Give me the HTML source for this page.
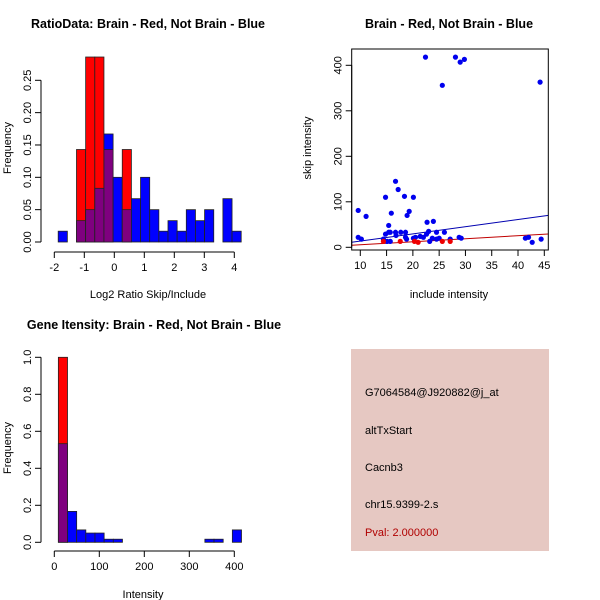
<!DOCTYPE html>
<html><head><meta charset="utf-8"><style>
body{margin:0;background:#fff}
svg{display:block;font-family:"Liberation Sans",sans-serif}
</style></head><body>
<svg id="s" width="600" height="600" viewBox="0 0 600 600">
<rect x="351" y="349" width="198" height="202" fill="#e6c8c2"/>
<g font-size="11">
<text x="365" y="396">G7064584@J920882@j_at</text>
<text x="365" y="434">altTxStart</text>
<text x="365" y="471">Cacnb3</text>
<text x="365" y="508">chr15.9399-2.s</text>
<text x="365" y="536" fill="#b00000">Pval: 2.000000</text>
</g>
</svg>
<script>
// ---- Plot 1 data: log2 ratio histogram
const ratioBinStart = -1.87;
const ratioBinWidth = 0.305;
const ratioBlue = [0.0167,0,0.033,0.05,0.083,0.167,0.1,0.05,0.067,0.1,0.05,0.0167,0.033,0.0167,0.05,0.033,0.05,0,0.067,0.0167];
const ratioRed  = [0,0,0.143,0.286,0.286,0.143,0,0.143,0,0,0,0,0,0,0,0,0,0,0,0];
const ratioXTicks = [-2,-1,0,1,2,3,4];
const ratioYTicks = [0,0.05,0.10,0.15,0.20,0.25];
const ratioYLabels = ["0.00","0.05","0.10","0.15","0.20","0.25"];
// ---- Plot 2 data: scatter
const blueX = [9.6,22.4,28.1,29.0,29.8,25.6,44.2,16.7,17.2,14.8,18.4,20.1,11.1,15.9,19.3,18.9,15.4,22.7,23.9,9.6,10.2,14.8,15.4,15.7,16.7,17.7,18.6,16.8,18.6,18.8,20.1,20.5,21.4,22,22.6,23,23.2,23.7,24.5,24.5,25,26,27.1,28.8,29.2,14.4,15.1,15.7,41.4,42,42.7,44.4];
const blueY = [81,418,418,407,413,356,363,145,127,110,112,110,68,75,79,70,48,55,57,22,18,29,33,33,33,33,33,26,22,18,20,22,24,22,29,35,13,20,33,18,20,33,18,22,20,18,13,13,20,22,11,18];
const redX = [17.6,20.3,21,25.6,27.1,14.4];
const redY = [13,13,11,13,13,13];
const blueFit = [-2.2,1.58];
const redFit = [-1.16,0.666];
const scatXTicks = [10,15,20,25,30,35,40,45];
const scatYTicks = [0,100,200,300,400];
// ---- Plot 3 data: intensity histogram
const intBinStart = 9;
const intBinWidth = 20.35;
const intBlue = [0.533,0.167,0.067,0.05,0.05,0.0167,0.0167,0,0,0,0,0,0,0,0,0,0.0167,0.0167,0,0.067];
const intRed  = [1.0,0,0,0,0,0,0,0,0,0,0,0,0,0,0,0,0,0,0,0];
const intXTicks = [0,100,200,300,400];
const intYTicks = [0,0.2,0.4,0.6,0.8,1.0];
const intYLabels = ["0.0","0.2","0.4","0.6","0.8","1.0"];

const NS="http://www.w3.org/2000/svg", svg=document.getElementById('s');
function mk(tag,attrs,parent){const e=document.createElementNS(NS,tag);for(const k in attrs)e.setAttribute(k,attrs[k]);(parent||svg).appendChild(e);return e;}
function txt(x,y,s,attrs,parent){const e=mk('text',Object.assign({x:x,y:y},attrs||{}),parent);e.textContent=s;return e;}
function lin(d0,d1,p0,p1){return v=>p0+(v-d0)*(p1-p0)/(d1-d0);}

function axes(g,xs,ys,xt,xl,yt,yl,xAxisY,yAxisX){
  mk('line',{x1:xs(xt[0]),x2:xs(xt[xt.length-1]),y1:xAxisY,y2:xAxisY,stroke:'#000'},g);
  xt.forEach((t,i)=>{mk('line',{x1:xs(t),x2:xs(t),y1:xAxisY,y2:xAxisY+6,stroke:'#000'},g);
    const e=txt(xs(t),xAxisY+19,xl[i],{'font-size':11,'text-anchor':'middle'},g);
    
    });
  mk('line',{x1:yAxisX,x2:yAxisX,y1:ys(yt[0]),y2:ys(yt[yt.length-1]),stroke:'#000'},g);
  yt.forEach((t,i)=>{mk('line',{x1:yAxisX-6,x2:yAxisX,y1:ys(t),y2:ys(t),stroke:'#000'},g);
    const e=txt(0,0,yl[i],{'font-size':11,'text-anchor':'middle',transform:`translate(${yAxisX-10},${ys(t)}) rotate(-90)`},g);
    
    });
}
function hist(g,xs,ys,start,w,blue,red){
  blue.forEach((b,i)=>{const r=red[i];const x0=xs(start+i*w),x1=xs(start+(i+1)*w);
    const draw=(v,c,nm)=>{if(v<=0)return;const e=mk('rect',{x:x0,y:ys(v),width:x1-x0,height:ys(0)-ys(v),fill:c,stroke:'#222','stroke-width':0.8},g);
      
      };
    if(r>b){draw(r,'#ff0000','red-bar');draw(b,'#7f007f','overlap-bar');}
    else{draw(b,'#0000ff','blue-bar');draw(r,'#7f007f','overlap-bar');}
  });
}
// Plot 1
{const g=mk('g',{});
 const xs=lin(-2,4,54.3,234.3), ys=lin(0,0.25,242,80.3);
 hist(g,xs,ys,ratioBinStart,ratioBinWidth,ratioBlue,ratioRed);
 axes(g,xs,ys,ratioXTicks,ratioXTicks.map(String),ratioYTicks,ratioYLabels,252,41);
 txt(148,28,'RatioData: Brain - Red, Not Brain - Blue',{'font-size':12.5,'font-weight':'bold','text-anchor':'middle'},g);
 txt(148,298,'Log2 Ratio Skip/Include',{'font-size':11,'text-anchor':'middle'},g);
 txt(0,0,'Frequency',{'font-size':11,'text-anchor':'middle',transform:'translate(11,148) rotate(-90)'},g);}
// Plot 2
{const g=mk('g',{});
 const xs=lin(10,45,360.3,544.3), ys=lin(0,400,247.3,65.3);
 const L=351.7,R=548.3,T=49,B=250;
 mk('defs',{},g).innerHTML='<clipPath id="cp"><rect x="351.7" y="49" width="196.6" height="201"/></clipPath>';
 const xa=8.35,xb=45.76;
 [[blueFit,'#0000b0','blue-fit-line'],[redFit,'#c00000','red-fit-line']].forEach(([f,c,n])=>{
   const e=mk('line',{x1:xs(xa),y1:ys(f[0]+f[1]*xa),x2:xs(xb),y2:ys(f[0]+f[1]*xb),stroke:c,'clip-path':'url(#cp)'},g);
   });
 blueX.forEach((x,i)=>{const e=mk('circle',{cx:xs(x),cy:ys(blueY[i]),r:2.6,fill:'#0000ee'},g);
   });
 redX.forEach((x,i)=>{const e=mk('circle',{cx:xs(x),cy:ys(redY[i]),r:2.6,fill:'#ee0000'},g);
   });
 mk('rect',{x:L,y:T,width:R-L,height:B-T,fill:'none',stroke:'#000'},g);
 axes(g,xs,ys,scatXTicks,scatXTicks.map(String),scatYTicks,scatYTicks.map(String),B,L);
 txt(449,28,'Brain - Red, Not Brain - Blue',{'font-size':12.5,'font-weight':'bold','text-anchor':'middle'},g);
 txt(449,298,'include intensity',{'font-size':11,'text-anchor':'middle'},g);
 txt(0,0,'skip intensity',{'font-size':11,'text-anchor':'middle',transform:'translate(311,148) rotate(-90)'},g);}
// Plot 3
{const g=mk('g',{});
 const xs=lin(0,400,54.3,234.3), ys=lin(0,1,542.3,357.3);
 hist(g,xs,ys,intBinStart,intBinWidth,intBlue,intRed);
 axes(g,xs,ys,intXTicks,intXTicks.map(String),intYTicks,intYLabels,551,41);
 txt(154,329,'Gene Itensity: Brain - Red, Not Brain - Blue',{'font-size':12.5,'font-weight':'bold','text-anchor':'middle'},g);
 txt(143,598,'Intensity',{'font-size':11,'text-anchor':'middle'},g);
 txt(0,0,'Frequency',{'font-size':11,'text-anchor':'middle',transform:'translate(11,448) rotate(-90)'},g);}
</script>
</body></html>
